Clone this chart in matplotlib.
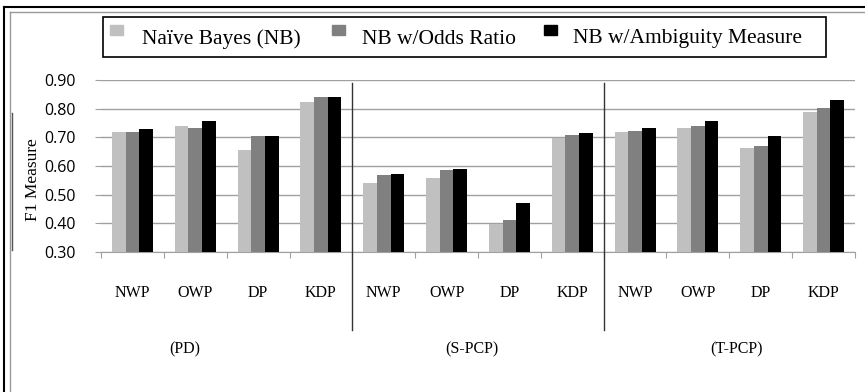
import numpy as np
import matplotlib.pyplot as plt
from matplotlib.patches import Rectangle
from matplotlib.lines import Line2D
import matplotlib.transforms as mtransforms

categories = ['NWP', 'OWP', 'DP', 'KDP'] * 3
groups = ['(PD)', '(S-PCP)', '(T-PCP)']
series = ['Naïve Bayes (NB)', 'NB w/Odds Ratio', 'NB w/Ambiguity Measure']

nb = [0.72, 0.74, 0.657, 0.822,
      0.541, 0.559, 0.399, 0.699,
      0.717, 0.732, 0.664, 0.788]
nb_odds = [0.72, 0.734, 0.703, 0.839,
           0.569, 0.587, 0.411, 0.707,
           0.721, 0.739, 0.670, 0.801]
nb_amb = [0.73, 0.756, 0.703, 0.839,
          0.573, 0.590, 0.471, 0.716,
          0.732, 0.756, 0.703, 0.830]

yticks = [0.30, 0.40, 0.50, 0.60, 0.70, 0.80, 0.90]
colors = ['#c0c0c0', '#808080', '#000000']

W, H = 865, 392
fig = plt.figure(figsize=(W / 100, H / 100), dpi=100)
ax = fig.add_axes([101 / W, (H - 252) / H, (855 - 101) / W, (252 - 80) / H])

x = np.arange(len(categories))
bw = 0.218
for i, (vals, c) in enumerate(zip([nb, nb_odds, nb_amb], colors)):
    ax.bar(x + (i - 1) * bw, np.array(vals) - 0.3, bw, bottom=0.3,
           color=c, zorder=3, linewidth=0)

ax.set_xlim(-0.5, len(categories) - 0.5)
ax.set_ylim(0.3, 0.9)
ax.set_yticks(yticks)
ax.set_yticklabels(['%.2f' % v for v in yticks], family='Open Sans', fontsize=11.5)
ax.yaxis.grid(True, color='#a0a0a0', linewidth=1, zorder=0)
ax.tick_params(axis='y', length=4, color='#a0a0a0', pad=14)

# boundaries as major ticks, names as minor ticks
ax.set_xticks(np.arange(len(categories) + 1) - 0.5)
ax.set_xticklabels([])
ax.set_xticks(x, minor=True)
ax.set_xticklabels(categories, minor=True, family='Liberation Serif', fontsize=11.5)
ax.tick_params(axis='x', which='major', length=4, color='#a0a0a0')
ax.tick_params(axis='x', which='minor', length=0, pad=24)

for s in ['top', 'right', 'left']:
    ax.spines[s].set_visible(False)
ax.spines['bottom'].set_color('#a0a0a0')

ax.set_ylabel('F1 Measure', family='Liberation Serif', fontsize=12.5)
ax.yaxis.set_label_coords((41 - 101) / 754, (252 - 180) / 172)

trans = mtransforms.blended_transform_factory(ax.transData, ax.transAxes)
for sep in [3.5, 7.5]:
    ax.plot([sep, sep], [0.983, -0.453], color='#333333', lw=1,
            transform=trans, clip_on=False, zorder=4)

group_x = [0.84, 5.4, 9.62]
for gx, g in zip(group_x, groups):
    ax.text(gx, -0.564, g, transform=trans, ha='center', va='center',
            family='Liberation Serif', fontsize=11.5)

# legend box
fig.patches.append(Rectangle((103 / W, (H - 57) / H), (826 - 103) / W, 40 / H,
                             transform=fig.transFigure, fill=False,
                             edgecolor='black', lw=1.2))
leg_patch_x = [110, 332, 544]
leg_text_x = [142, 362, 573]
for px, tx, c, s in zip(leg_patch_x, leg_text_x, colors, series):
    fig.patches.append(Rectangle((px / W, (H - 35) / H), 13 / W, 10 / H,
                                 transform=fig.transFigure, color=c))
    fig.text(tx / W, (H - 39) / H, s, ha='left', va='center',
             family='Liberation Serif', fontsize=15.5)

# outer frame
fig.lines.append(Line2D([4 / W, 4 / W], [0, (H - 7) / H], color='black', lw=1.5,
                        transform=fig.transFigure))
fig.lines.append(Line2D([4 / W, 1], [(H - 7) / H, (H - 7) / H], color='black', lw=1.5,
                        transform=fig.transFigure))
fig.lines.append(Line2D([10 / W, 10 / W], [0, (H - 12) / H], color='#999999', lw=1,
                        transform=fig.transFigure))
fig.lines.append(Line2D([10 / W, 1], [(H - 12) / H, (H - 12) / H], color='#999999', lw=1,
                        transform=fig.transFigure))
fig.lines.append(Line2D([12 / W, 12 / W], [(H - 250) / H, (H - 113) / H], color='#555555',
                        lw=1, transform=fig.transFigure))

fig.savefig('out.png', dpi=100)
